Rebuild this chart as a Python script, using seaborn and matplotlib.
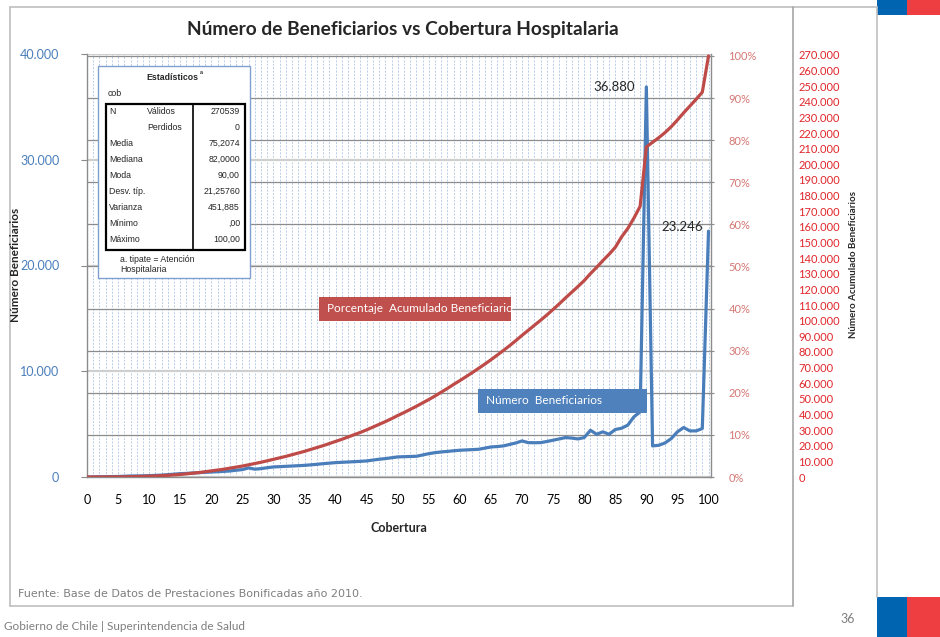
import numpy as np
import pandas as pd
import matplotlib.pyplot as plt
import matplotlib.transforms as mtransforms
from matplotlib.patches import Rectangle
from matplotlib.lines import Line2D
from matplotlib.ticker import FuncFormatter, PercentFormatter
import seaborn as sns

# datos
cobertura = list(range(0, 101))
beneficiarios = [
    0, 10, 20, 30, 40, 50, 70, 95, 100, 110,
    125, 150, 180, 220, 270, 316, 340, 380, 410, 440,
    470, 500, 530, 570, 640, 700, 860, 740, 790, 880,
    950, 980, 1010, 1040, 1070, 1100, 1150, 1200, 1260, 1310,
    1360, 1390, 1420, 1450, 1480, 1520, 1600, 1680, 1740, 1820,
    1900, 1920, 1940, 1960, 2080, 2210, 2300, 2370, 2420, 2480,
    2530, 2560, 2590, 2620, 2730, 2840, 2880, 2940, 3080, 3220,
    3410, 3250, 3240, 3250, 3360, 3480, 3600, 3730, 3680, 3600,
    3730, 4420, 4040, 4270, 4040, 4490, 4610, 4900, 5690, 6160,
    36880, 2940, 3000, 3220, 3630, 4270, 4680, 4360, 4360, 4580,
    23246]
pct_acumulado = [
    0.0, 0.0, 0.0, 0.01, 0.02, 0.03, 0.05, 0.08, 0.11, 0.15,
    0.2, 0.25, 0.32, 0.4, 0.5, 0.6, 0.75, 0.9, 1.05, 1.25,
    1.45, 1.65, 1.85, 2.1, 2.35, 2.6, 2.9, 3.2, 3.5, 3.85,
    4.2, 4.55, 4.9, 5.3, 5.7, 6.1, 6.55, 7.0, 7.45, 7.95,
    8.45, 8.95, 9.5, 10.05, 10.6, 11.2, 11.85, 12.5, 13.15, 13.85,
    14.6, 15.3, 16.05, 16.8, 17.6, 18.4, 19.25, 20.15, 21.05, 22.0,
    22.9, 23.85, 24.8, 25.8, 26.8, 27.85, 28.95, 30.05, 31.2, 32.4,
    33.65, 34.85, 36.05, 37.25, 38.5, 39.8, 41.15, 42.55, 43.9, 45.25,
    46.65, 48.3, 49.8, 51.4, 52.9, 54.55, 57.0, 59.0, 61.5, 64.3,
    78.4, 79.5, 80.6, 81.8, 83.2, 84.8, 86.5, 88.1, 89.7, 91.4,
    100.0]

stats_labels = ['Válidos', 'Perdidos', 'Media', 'Mediana', 'Moda', 'Desv. típ.',
                'Varianza', 'Mínimo', 'Máximo']
stats_values = ['270539', '0', '75,2074', '82,0000', '90,00', '21,25760',
                '451,885', ',00', '100,00']

df = pd.DataFrame({'Cobertura': cobertura,
                   'Beneficiarios': beneficiarios,
                   'Porcentaje': np.array(pct_acumulado) / 100})

sns.set_style('white')
plt.rcParams['font.family'] = ['Lato', 'DejaVu Sans']

W, H = 940, 637
def fx(x):
    return x / W
def fy(y):
    return 1 - y / H

fig = plt.figure(figsize=(9.4, 6.37), dpi=100)
ax = fig.add_axes([fx(87), fy(477), 624 / W, 423 / H])
ax2 = ax.twinx()
ax3 = ax.twinx()

blue = '#4A7EBB'
red = '#BE4B48'
grey = '#8C8C8C'

# ejes
ax.set_xlim(0, 100.4)
ax.set_ylim(0, 40000)
ax2.set_ylim(0, 1.0047)
ax3.set_ylim(0, 270600)

# grilla
ax.set_xticks(range(0, 101, 5))
ax.set_xticks(range(0, 101), minor=True)
ax.set_yticks(range(0, 40001, 10000))
ax.grid(axis='x', which='both', color='#B9CDE5', ls=(0, (2, 1.5)), lw=0.7)
ax.grid(axis='y', which='major', color='#CFCFCF', lw=1.6)
tr = mtransforms.blended_transform_factory(ax.transAxes, ax2.transData)
for p in np.arange(0.1, 1.01, 0.1):
    ax.add_line(Line2D([0, 1], [p, p], transform=tr, color=grey, lw=0.9, zorder=0.8))

sns.lineplot(data=df, x='Cobertura', y='Beneficiarios', ax=ax, color=blue, lw=2.3, zorder=3)
sns.lineplot(data=df, x='Cobertura', y='Porcentaje', ax=ax2, color=red, lw=2.3, zorder=3)

ax.yaxis.set_major_formatter(FuncFormatter(lambda v, p: f'{int(v):,}'.replace(',', '.')))
ax.tick_params(axis='y', colors=blue, labelsize=9, length=4, color=grey, pad=16)
ax.tick_params(axis='x', colors='black', labelsize=9, length=0, pad=12)
ax.tick_params(axis='x', which='minor', length=0)
for lab in ax.get_yticklabels():
    lab.set_color(blue)
ax.set_xlabel('Cobertura', fontsize=9, fontweight='bold', labelpad=12)
ax.set_ylabel('')
fig.text(fx(16), fy(265), 'Número Beneficiarios', rotation=90, fontsize=8.5,
         fontweight='bold', ha='center', va='center')
for s in ['left', 'bottom']:
    ax.spines[s].set_color(grey)
    ax.spines[s].set_linewidth(1)
for s in ['top', 'right']:
    ax.spines[s].set_visible(False)

ax2.set_yticks(np.arange(0, 1.01, 0.1))
ax2.yaxis.set_major_formatter(PercentFormatter(1.0, decimals=0))
ax2.tick_params(axis='y', colors='#D47874', labelsize=8, length=5, color=grey,
                direction='inout', pad=10)
ax2.set_ylabel('')
for s in ['left', 'bottom', 'top']:
    ax2.spines[s].set_visible(False)
ax2.spines['right'].set_color(grey)
ax2.spines['right'].set_linewidth(1)

ax3.set_yticks(range(0, 270001, 10000))
ax3.yaxis.set_major_formatter(FuncFormatter(lambda v, p: f'{int(v):,}'.replace(',', '.')))
ax3.spines['right'].set_position(('axes', (793 - 87) / 624))
ax3.spines['right'].set_visible(False)
for s in ['left', 'bottom', 'top']:
    ax3.spines[s].set_visible(False)
ax3.tick_params(axis='y', colors='#E0262B', labelsize=8, length=0, pad=4)

fig.text(fx(853), fy(265), 'Número Acumulado Beneficiarios', rotation=90, fontsize=7,
         fontweight='bold', ha='center', va='center')

# titulo
fig.text(fx(403), fy(30), 'Número de Beneficiarios vs Cobertura Hospitalaria',
         fontsize=13.8, fontweight='bold', ha='center', va='center')

# anotaciones
ax.annotate('36.880', xy=(90, 36880), xytext=(-8, 0), textcoords='offset points',
            ha='right', va='center', fontsize=9.5)
ax.annotate('23.246', xy=(100, 23246), xytext=(-4, 3), textcoords='offset points',
            ha='right', va='center', fontsize=9.5)

# etiquetas de serie
fig.add_artist(Rectangle((fx(319), fy(321)), 192 / W, 24 / H, transform=fig.transFigure,
                         facecolor='#C0504D', edgecolor='none', zorder=5))
fig.text(fx(327), fy(309), 'Porcentaje  Acumulado Beneficiario', color='white', fontsize=8.5,
         ha='left', va='center', zorder=6)
fig.add_artist(Rectangle((fx(478), fy(413)), 169 / W, 24 / H, transform=fig.transFigure,
                         facecolor='#4F81BD', edgecolor='none', zorder=5))
fig.text(fx(486), fy(401), 'Número  Beneficiarios', color='white', fontsize=8.5,
         ha='left', va='center', zorder=6)

# tabla de estadisticos
tf = ['Liberation Sans', 'DejaVu Sans']
fs = 6.3
fig.add_artist(Rectangle((fx(98), fy(278)), 152 / W, 212 / H, transform=fig.transFigure,
                         facecolor='white', edgecolor='#7F9FCF', lw=1, zorder=5))
fig.add_artist(Rectangle((fx(106), fy(250)), 139 / W, 146 / H, transform=fig.transFigure,
                         facecolor='none', edgecolor='black', lw=1.6, zorder=6))
fig.add_artist(Line2D([fx(193), fx(193)], [fy(104), fy(250)], transform=fig.transFigure,
                      color='black', lw=1.2, zorder=6))
fig.text(fx(172), fy(77), 'Estadísticos', family=tf, fontsize=fs,
         fontweight='bold', ha='center', va='center', zorder=7)
fig.text(fx(199.5), fy(73), 'a', family=tf, fontsize=4, fontweight='bold',
         ha='left', va='center', zorder=7)
fig.text(fx(108), fy(94), 'cob', family=tf, fontsize=fs, ha='left', va='center', zorder=7)
fig.text(fx(109), fy(111), 'N', family=tf, fontsize=fs, ha='left', va='center', zorder=7)
for i, (lab, val) in enumerate(zip(stats_labels, stats_values)):
    yy = 111 + i * 16.1
    xl = 147 if i < 2 else 109
    fig.text(fx(xl), fy(yy), lab, family=tf, fontsize=fs, ha='left', va='center', zorder=7)
    fig.text(fx(240), fy(yy), val, family=tf, fontsize=fs, ha='right', va='center', zorder=7)
fig.text(fx(120), fy(260), 'a. tipate = Atención', family=tf, fontsize=fs,
         ha='left', va='center', zorder=7)
fig.text(fx(120), fy(269), 'Hospitalaria', family=tf, fontsize=fs,
         ha='left', va='center', zorder=7)

# marco de la diapositiva
frame = dict(transform=fig.transFigure, color='#BFBFBF', lw=1.2)
fig.add_artist(Line2D([fx(10), fx(877)], [fy(7), fy(7)], **frame))
fig.add_artist(Line2D([fx(10), fx(10)], [fy(7), fy(606)], **frame))
fig.add_artist(Line2D([fx(10), fx(793)], [fy(606), fy(606)], **frame))
fig.add_artist(Line2D([fx(793), fx(793)], [fy(7), fy(606)], color='#A6A6A6', lw=1.2,
                      transform=fig.transFigure))
fig.add_artist(Line2D([fx(877), fx(877)], [fy(7), fy(597)], **frame))

# bandera
for x0, w, c in [(877, 30, '#0064B0'), (907, 33, '#EE3E42')]:
    fig.add_artist(Rectangle((fx(x0), fy(15)), w / W, 15 / H, transform=fig.transFigure,
                             facecolor=c, edgecolor='none'))
    fig.add_artist(Rectangle((fx(x0), fy(637)), w / W, 40 / H, transform=fig.transFigure,
                             facecolor=c, edgecolor='none'))

fig.text(fx(18), fy(594), 'Fuente: Base de Datos de Prestaciones Bonificadas año 2010.',
         family=['DejaVu Sans'], fontsize=8, color='#7F7F7F', ha='left', va='center')
fig.text(fx(4), fy(627), 'Gobierno de Chile | Superintendencia de Salud', fontsize=8.5,
         color='#7F7F7F', ha='left', va='center')
fig.text(fx(848), fy(619), '36', fontsize=9, color='#7F7F7F', ha='center', va='center')

fig.savefig('out.png', dpi=100)
